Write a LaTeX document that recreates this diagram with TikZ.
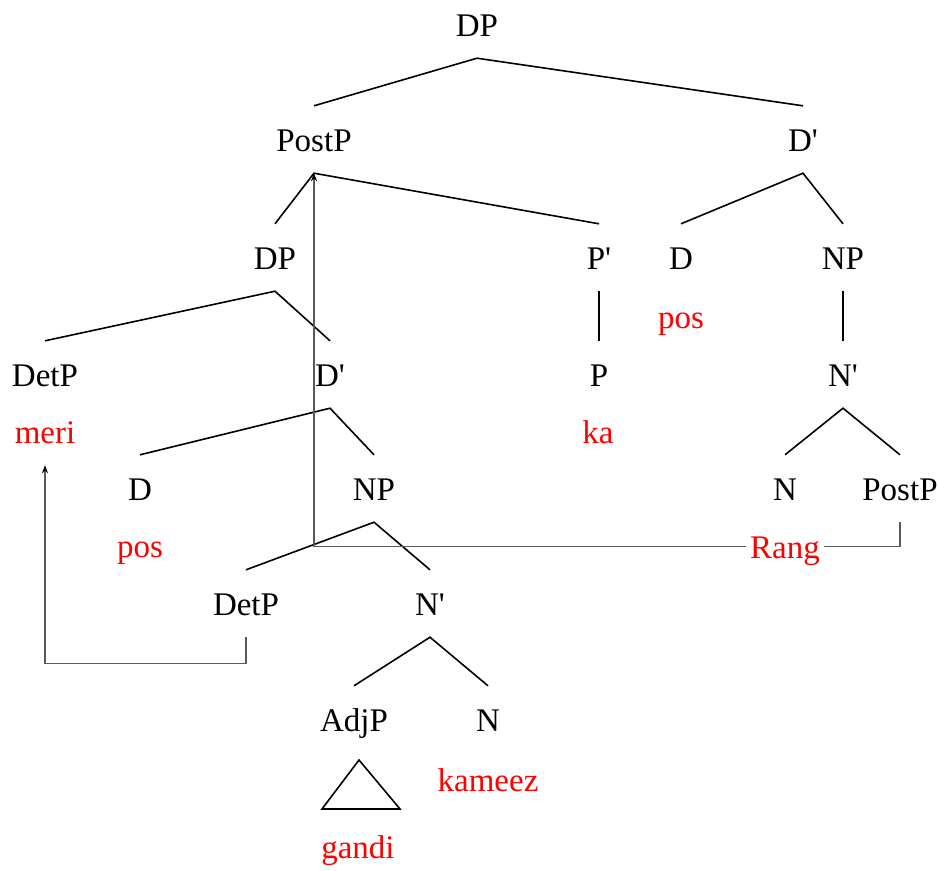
\documentclass[tikz,border=0pt]{standalone}
\usepackage{fontspec}
\setmainfont{Liberation Serif}
\usetikzlibrary{arrows.meta}
\newcommand{\pr}{\textquotesingle}
\begin{document}
\begin{tikzpicture}[x=1pt,y=-1pt,
  tn/.style={anchor=base, inner xsep=4pt, inner ysep=22pt, text height=23pt, text depth=0pt, font=\fontsize{33}{40}\selectfont},
  lex/.style={tn, text=red},
  br/.style={line width=1.6pt, black, line join=miter},
  mv/.style={line width=1.3pt, black!65},
  tip/.style={-{Stealth[length=8pt,width=6pt,black]}}
]
\useasboundingbox (0,0) rectangle (938,871);
\node[tn] (dp0) at (477,36) {DP};
\node[tn] (postp1) at (314,151) {PostP};
\node[tn] (dbar1) at (803,151) {D\pr};
\node[tn] (dp2) at (275,269) {DP};
\node[tn] (pbar) at (599,269) {P\pr};
\node[tn] (d1) at (681,269) {D};
\node[tn] (np1) at (843,269) {NP};
\node[lex] (pos1) at (681,328) {pos};
\node[tn] (detp1) at (45,386) {DetP};
\node[tn] (dbar2) at (330,386) {D\pr};
\node[tn] (p1) at (599,386) {P};
\node[tn] (nbar1) at (843,386) {N\pr};
\node[lex] (meri) at (45,443) {meri};
\node[lex] (ka) at (598,443) {ka};
\node[tn] (d2) at (140,500) {D};
\node[tn] (np2) at (374,500) {NP};
\node[tn] (n1) at (785,500) {N};
\node[tn] (postp2) at (900,500) {PostP};
\node[lex] (pos2) at (140,557) {pos};
\node[lex] (rang) at (785,558) {Rang};
\node[tn] (detp2) at (246,615) {DetP};
\node[tn] (nbar2) at (430,615) {N\pr};
\node[tn] (adjp) at (354,731) {AdjP};
\node[tn] (n2) at (488,731) {N};
\node[lex] (kameez) at (488,791) {kameez};
\node[lex] (gandi) at (358,858) {gandi};
% branches
\draw[br] (postp1.north) -- (dp0.south) -- (dbar1.north);
\draw[br] (dp2.north) -- (postp1.south) -- (pbar.north);
\draw[br] (d1.north) -- (dbar1.south) -- (np1.north);
\draw[br] (pbar.south) -- (p1.north);
\draw[br] (np1.south) -- (nbar1.north);
\draw[br] (detp1.north) -- (dp2.south) -- (dbar2.north);
\draw[br] (d2.north) -- (dbar2.south) -- (np2.north);
\draw[br] (n1.north) -- (nbar1.south) -- (postp2.north);
\draw[br] (detp2.north) -- (np2.south) -- (nbar2.north);
\draw[br] (adjp.north) -- (nbar2.south) -- (n2.north);
% triangle
\coordinate (ta) at (359,760);
\coordinate (tl) at (322,809);
\coordinate (tr) at (400,809);
\draw[br] (ta) -- (tl) -- (tr) -- cycle;
% movement
\draw[mv,tip] (rang.west) -| (postp1.south);
\draw[mv] (rang.east) -| (postp2.south);
\draw[mv,tip] (detp2.south) -- ++(0,26) -| (meri.south);
\end{tikzpicture}
\end{document}
